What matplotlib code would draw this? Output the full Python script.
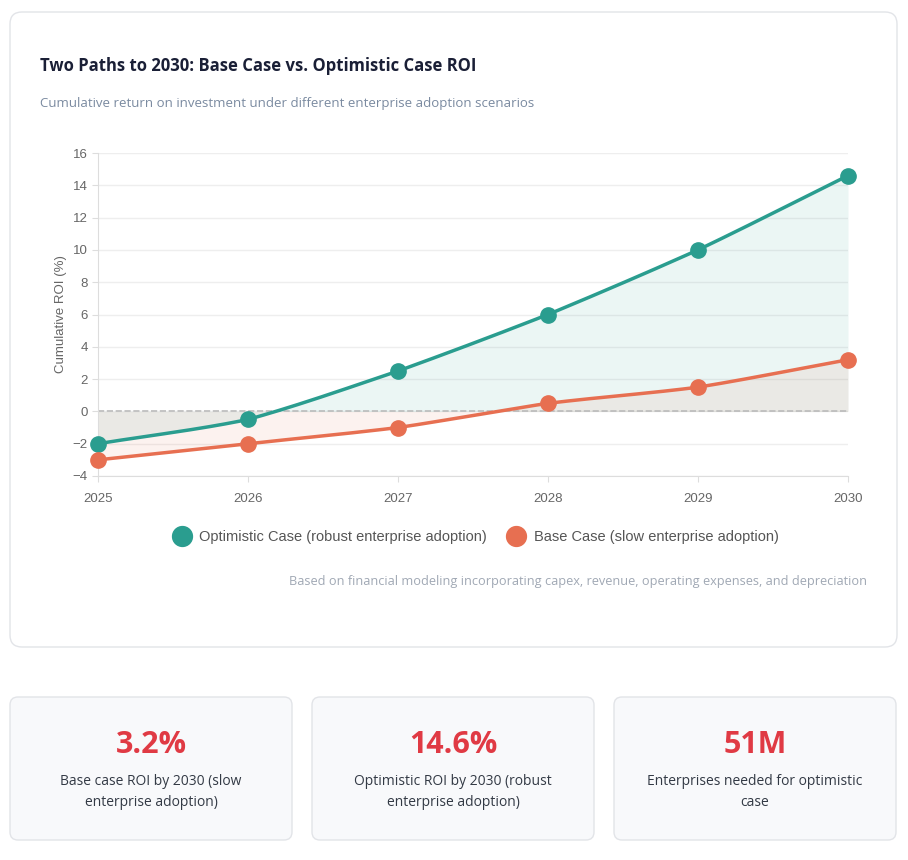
import matplotlib
matplotlib.use("Agg")
import matplotlib.pyplot as plt
import numpy as np
from matplotlib.patches import FancyBboxPatch

years = [2025, 2026, 2027, 2028, 2029, 2030]
optimistic = [-2, -0.5, 2.5, 6, 10, 14.6]
base = [-3, -2, -1, 0.5, 1.5, 3.2]
stats = [("3.2%", "Base case ROI by 2030 (slow\nenterprise adoption)"),
         ("14.6%", "Optimistic ROI by 2030 (robust\nenterprise adoption)"),
         ("51M", "Enterprises needed for optimistic\ncase")]

TEAL = "#2a9d8f"; ORANGE = "#e76f51"
W, H = 908, 860
fig = plt.figure(figsize=(W/100, H/100), dpi=100)
fig.patch.set_facecolor("white")
plt.rcParams['font.family'] = ['Open Sans', 'DejaVu Sans']

def px(x, y):
    return x / W, 1 - y / H

bg = fig.add_axes([0, 0, 1, 1]); bg.set_xlim(0, W); bg.set_ylim(H, 0); bg.axis("off")
bg.add_patch(FancyBboxPatch((10, 12), 887, 635, boxstyle="round,pad=0,rounding_size=12",
                            fc="white", ec="#e2e4e8", lw=1))
for i, (num, lab) in enumerate(stats):
    x0 = [10, 312, 614][i]
    bg.add_patch(FancyBboxPatch((x0, 697), 282, 143, boxstyle="round,pad=0,rounding_size=8",
                                fc="#f8f9fb", ec="#e2e4e8", lw=1))
    bg.text(x0 + 141, 745, num, ha="center", va="center", fontsize=22, fontweight="bold", color="#e03a44")
    bg.text(x0 + 141, 792, lab, ha="center", va="center", fontsize=10, color="#333a45", linespacing=1.5)

bg.text(40, 66, "Two Paths to 2030: Base Case vs. Optimistic Case ROI", fontsize=12,
        fontweight="bold", color="#1a1f36", va="center")
bg.text(40, 104, "Cumulative return on investment under different enterprise adoption scenarios",
        fontsize=9.5, color="#7a8aa0", va="center")
bg.text(867, 581, "Based on financial modeling incorporating capex, revenue, operating expenses, and depreciation",
        fontsize=9.2, color="#a0a8b4", ha="right", va="center")

l, b = px(98, 476); r, t = px(848, 153)
ax = fig.add_axes([l, b, r - l, t - b])

def smooth(xs, ys, n=40, k=0.55):
    xs = np.array(xs, float); ys = np.array(ys, float)
    ox, oy = [], []
    for i in range(len(xs) - 1):
        p0 = i - 1 if i > 0 else i
        p3 = i + 2 if i + 2 < len(xs) else i + 1
        m1 = (ys[i+1] - ys[p0]) / (xs[i+1] - xs[p0])
        m2 = (ys[p3] - ys[i]) / (xs[p3] - xs[i])
        s = (ys[i+1] - ys[i]) / (xs[i+1] - xs[i])
        m1 = s + k * (m1 - s); m2 = s + k * (m2 - s)
        tt = np.linspace(0, 1, n)
        h = xs[i+1] - xs[i]
        h00 = 2*tt**3 - 3*tt**2 + 1; h10 = tt**3 - 2*tt**2 + tt
        h01 = -2*tt**3 + 3*tt**2; h11 = tt**3 - tt**2
        ox.extend(xs[i] + tt*h)
        oy.extend(h00*ys[i] + h10*h*m1 + h01*ys[i+1] + h11*h*m2)
    return np.array(ox), np.array(oy)

for ys, c, lab in [(optimistic, TEAL, "Optimistic Case (robust enterprise adoption)"),
                   (base, ORANGE, "Base Case (slow enterprise adoption)")]:
    sx, sy = smooth(years, ys)
    ax.fill_between(sx, sy, 0, color=c, alpha=0.09, lw=0)
    ax.plot(sx, sy, color=c, lw=2.5, zorder=3)
    ax.plot(years, ys, "o", color=c, ms=11, zorder=4, label=lab, clip_on=False)

ax.axhline(0, color="#bbbbbb", ls="--", lw=1.2, zorder=2)
ax.set_xlim(2025, 2030); ax.set_ylim(-4, 16)
ax.set_yticks(range(-4, 17, 2)); ax.set_xticks(years)
ax.grid(True, axis="y", color="#eeeeee", lw=1); ax.set_axisbelow(True)
for s in ["top", "right"]: ax.spines[s].set_visible(False)
for s in ["left", "bottom"]: ax.spines[s].set_color("#dddddd")
ax.tick_params(colors="#666666", labelsize=9.5, length=4, color="#dddddd")
ax.set_ylabel("Cumulative ROI (%)", color="#666666", fontsize=9.5, family=["Liberation Sans", "DejaVu Sans"])
for lbl in ax.get_xticklabels() + ax.get_yticklabels():
    lbl.set_family(["Liberation Sans", "DejaVu Sans"])
ax.xaxis.set_tick_params(pad=8)
ax.legend(loc="center", bbox_to_anchor=(0.5, -0.19), ncol=2, frameon=False,
          handletextpad=0.2, columnspacing=1.0, labelcolor="#555555", markerscale=1.3,
          prop={"family": ["Liberation Sans", "DejaVu Sans"], "size": 10.5})
fig.savefig("out.png", dpi=100, facecolor="white")
